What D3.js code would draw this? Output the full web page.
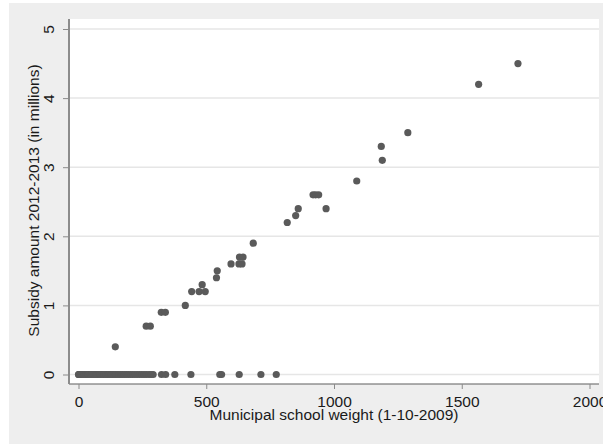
<!DOCTYPE html>
<html>
<head>
<meta charset="utf-8">
<script src="https://cdn.jsdelivr.net/npm/d3@7"></script>
<style>
  html, body { margin: 0; padding: 0; background: #ffffff; }
  svg { display: block; }
  text { font-family: Arial, "Liberation Sans", sans-serif; fill: #1a1a1a; }
</style>
</head>
<body>
<svg id="chart" width="603" height="444"></svg>
<script>
// Municipal school weight (1-10-2009) per municipality
const schoolWeight = [
  0, 1, 3, 4, 6, 8, 10, 12, 14, 16, 18, 20, 23, 25, 28, 30, 33, 35, 38, 41,
  44, 47, 50, 54, 57, 61, 65, 68, 72, 76, 80, 85, 89, 94, 99, 104, 109, 115,
  120, 126, 132, 138, 145, 151, 158, 165, 172, 180, 188, 196, 204, 212, 221,
  230, 239, 248, 257, 266, 276, 284, 292, 325, 341, 377, 440, 553, 560, 629,
  714, 774,
  144, 265, 281, 324, 340, 418, 443, 472, 496, 484, 540, 543, 597, 628, 640,
  630, 644, 684, 817, 850, 860, 918, 928, 940, 969, 1089, 1185, 1189, 1289,
  1566, 1720
];

// Subsidy amount 2012-2013, in millions, same order as schoolWeight
const subsidyMillions = [
  0, 0, 0, 0, 0, 0, 0, 0, 0, 0, 0, 0, 0, 0, 0, 0, 0, 0, 0, 0,
  0, 0, 0, 0, 0, 0, 0, 0, 0, 0, 0, 0, 0, 0, 0, 0, 0, 0,
  0, 0, 0, 0, 0, 0, 0, 0, 0, 0, 0, 0, 0, 0, 0,
  0, 0, 0, 0, 0, 0, 0, 0, 0, 0, 0, 0, 0, 0, 0,
  0, 0,
  0.4, 0.7, 0.7, 0.9, 0.9, 1.0, 1.2, 1.2, 1.2, 1.3, 1.4, 1.5, 1.6, 1.6, 1.6,
  1.7, 1.7, 1.9, 2.2, 2.3, 2.4, 2.6, 2.6, 2.6, 2.4, 2.8, 3.3, 3.1, 3.5,
  4.2, 4.5
];

const xTicks = [0, 500, 1000, 1500, 2000];
const yTicks = [0, 1, 2, 3, 4, 5];
const xTitle = "Municipal school weight (1-10-2009)";
const yTitle = "Subsidy amount 2012-2013 (in millions)";

const points = schoolWeight.map((w, i) => ({ w, s: subsidyMillions[i] }));

const FONT = "Arial, 'Liberation Sans', sans-serif";
const FS = 15.5;

const svg = d3.select("#chart");

// graph region and plot region
const plot = { left: 69, top: 19, right: 599, bottom: 384 };

svg.append("rect")
  .attr("x", 9).attr("y", 3)
  .attr("width", 603 - 9).attr("height", 444 - 3)
  .attr("fill", "#eeeeee");

svg.append("rect")
  .attr("x", plot.left).attr("y", plot.top)
  .attr("width", plot.right - plot.left).attr("height", plot.bottom - plot.top)
  .attr("fill", "#ffffff");

const x = d3.scaleLinear().domain([0, 2000]).range([78.5, 589.5]);
const y = d3.scaleLinear().domain([0, 5]).range([374.5, 29]);

// horizontal grid lines
svg.append("g")
  .selectAll("line")
  .data(yTicks)
  .join("line")
  .attr("x1", plot.left).attr("x2", plot.right)
  .attr("y1", d => y(d)).attr("y2", d => y(d))
  .attr("stroke", "#e6e6e6")
  .attr("stroke-width", 1.5);

// markers
svg.append("g")
  .selectAll("circle")
  .data(points)
  .join("circle")
  .attr("cx", d => x(d.w))
  .attr("cy", d => y(d.s))
  .attr("r", 3.6)
  .attr("fill", "#5a5a5a");

// x axis
const xAxis = svg.append("g")
  .attr("transform", `translate(0,${plot.bottom})`)
  .call(d3.axisBottom(x).tickValues(xTicks).tickFormat(d3.format("d"))
    .tickSize(5).tickPadding(7).tickSizeOuter(0));
xAxis.select(".domain")
  .attr("d", `M${plot.left},0H${plot.right}`)
  .attr("stroke", "#5f5f5f").attr("stroke-width", 1.2);
xAxis.selectAll(".tick line").attr("stroke", "#8a8a8a");
xAxis.selectAll(".tick text")
  .attr("y", 23)
  .attr("dy", 0)
  .attr("font-size", FS)
  .style("font-family", FONT)
  .attr("fill", "#1a1a1a");

// y axis with rotated labels
const yAxis = svg.append("g")
  .attr("transform", `translate(${plot.left},0)`)
  .call(d3.axisLeft(y).tickValues(yTicks).tickFormat(d3.format("d"))
    .tickSize(6).tickSizeOuter(0));
yAxis.select(".domain")
  .attr("d", `M0,${plot.top}V${plot.bottom}`)
  .attr("stroke", "#8c8c8c").attr("stroke-width", 2);
yAxis.selectAll(".tick line").attr("stroke", "#8a8a8a");
yAxis.selectAll(".tick text")
  .attr("transform", "rotate(-90)")
  .attr("x", 0)
  .attr("y", -15.5)
  .attr("dy", 0)
  .attr("text-anchor", "middle")
  .attr("font-size", FS)
  .style("font-family", FONT)
  .attr("fill", "#1a1a1a");

// axis titles
svg.append("text")
  .attr("x", 334).attr("y", 420)
  .attr("text-anchor", "middle")
  .attr("font-size", FS)
  .text(xTitle);

svg.append("text")
  .attr("transform", "translate(39,200.5) rotate(-90)")
  .attr("text-anchor", "middle")
  .attr("font-size", FS)
  .text(yTitle);
</script>
</body>
</html>
